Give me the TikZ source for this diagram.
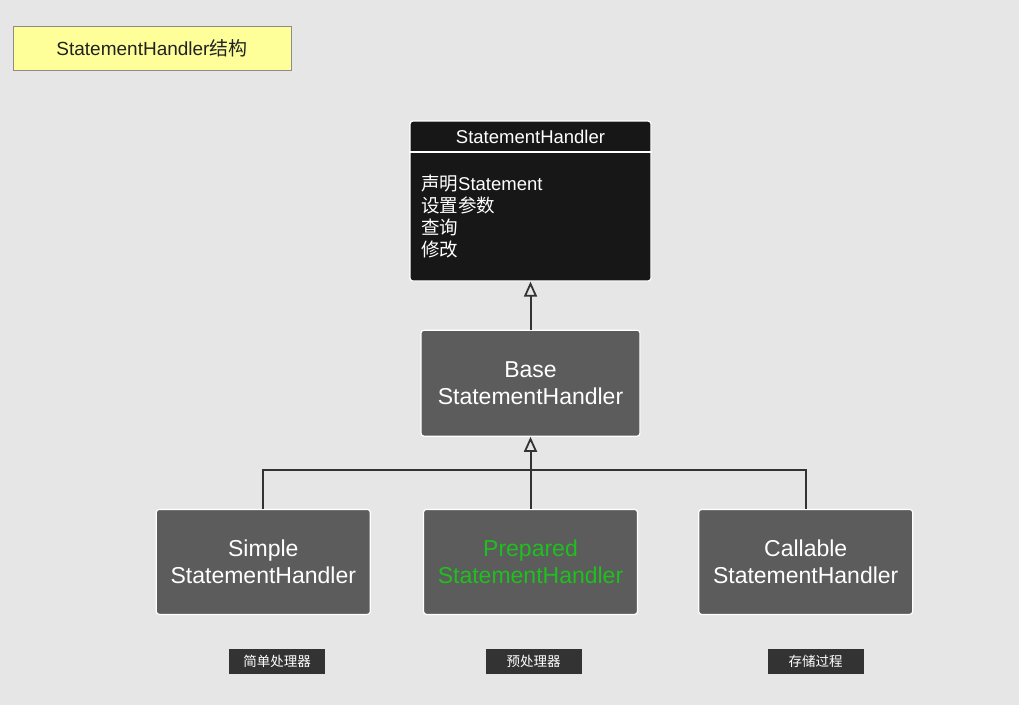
\documentclass[tikz,border=0pt]{standalone}
\usepackage{fontspec}
\setmainfont{Liberation Sans}
\newfontfamily\cjk{Noto Sans CJK SC}
\usetikzlibrary{arrows.meta, positioning}

\definecolor{bgcol}{HTML}{E6E6E6}
\definecolor{boxgray}{HTML}{5C5C5C}
\definecolor{darkbox}{HTML}{171717}
\definecolor{taggray}{HTML}{333333}
\definecolor{linegray}{HTML}{333333}
\definecolor{titlefill}{HTML}{FFFF99}
\definecolor{titleframe}{HTML}{8C8C8C}
\definecolor{titletext}{HTML}{222222}
\definecolor{hlgreen}{HTML}{1EC01E}

\begin{document}
\begin{tikzpicture}[
    x=1pt, y=-1pt,
    cls/.style={rectangle, draw=white, line width=1.2pt, rounded corners=3pt,
                fill=boxgray, text=white, minimum width=214pt, minimum height=105pt,
                align=center, font=\fontsize{23}{27}\selectfont},
    tag/.style={rectangle, fill=taggray, text=white, minimum width=96pt,
                minimum height=25pt, inner sep=0pt, font=\cjk\fontsize{13.5}{15}\selectfont},
    arr/.style={-{Triangle[open, length=15pt, width=13pt, line width=1.8pt]},
                line width=2pt, draw=linegray},
    link/.style={line width=2pt, draw=linegray}
]
\fill[bgcol] (0,0) rectangle (1019,705);
\useasboundingbox (0,0) rectangle (1019,705);

% Title
\node[rectangle, draw=titleframe, fill=titlefill, minimum width=278pt, minimum height=44pt,
      font=\fontsize{19}{22}\selectfont, text=titletext] (title) at (152,48)
      {StatementHandler{\cjk 结构}};

% Interface box
\node[rectangle, draw=white, line width=1.2pt, fill=darkbox, rounded corners=3pt,
      minimum width=241pt, minimum height=160pt] (handler) at (530.5,201) {};
\node[text=white, font=\fontsize{18.5}{22}\selectfont] (hname) at (530.5,137) {StatementHandler};
\coordinate (split) at (530.5,152);
\draw[white, line width=1.2pt] (handler.west |- split) -- (handler.east |- split);
\node[anchor=west, align=left, text=white, inner sep=0pt,
      font=\fontsize{18.5}{22}\selectfont] (duties) at (421,216)
      {{\cjk 声明}Statement\\{\cjk 设置参数}\\{\cjk 查询}\\{\cjk 修改}};

% Base class
\node[cls, minimum width=219pt, minimum height=106pt, below=48pt of handler] (base)
      {Base\\StatementHandler};

% Implementations
\node[cls, below=72pt of base, text=hlgreen] (prepared) {Prepared\\StatementHandler};
\node[cls, left=52pt of prepared]  (simple)   {Simple\\StatementHandler};
\node[cls, right=60pt of prepared] (callable) {Callable\\StatementHandler};

% Tags
\node[tag] (tsimple)   at (277,661.5)   {简单处理器};
\node[tag] (tprepared) at (533.5,661.5) {预处理器};
\node[tag] (tcallable) at (815.5,661.5) {存储过程};

% Inheritance
\coordinate (joint) at (530.5,470);
\draw[arr] (base) -- (handler);
\draw[arr] (prepared) -- (base);
\draw[link] (simple.north) |- (joint) -| (callable.north);
\end{tikzpicture}
\end{document}
